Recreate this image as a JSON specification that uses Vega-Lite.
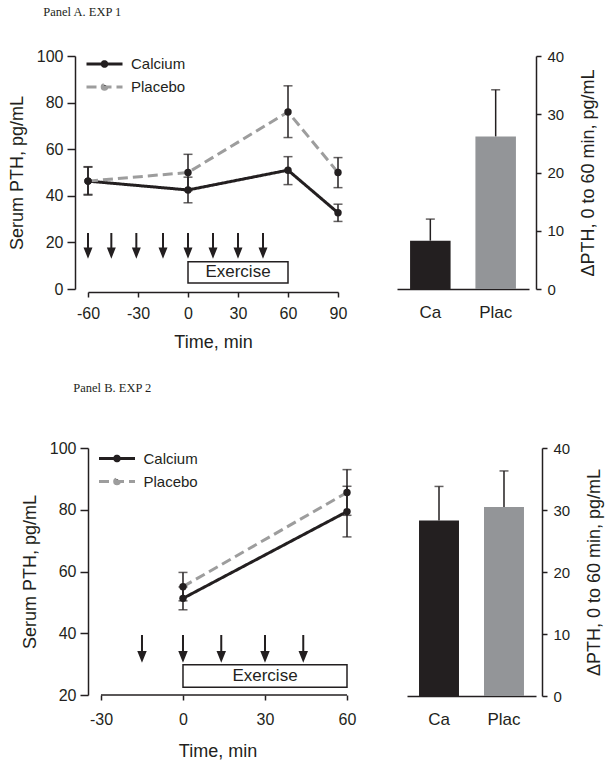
{
  "$schema": "https://vega.github.io/schema/vega-lite/v6.json",
  "padding": {"left": 8, "top": 5, "right": 5, "bottom": 5},
  "background": "white",
  "config": {
    "font": "Liberation Sans",
    "view": {"stroke": null},
    "axis": {"grid": false, "domainColor": "#231f20", "domainWidth": 1.5, "tickColor": "#231f20", "tickWidth": 1.5, "tickSize": 6, "labelColor": "#231f20", "titleColor": "#231f20", "labelFont": "Liberation Sans", "titleFont": "Liberation Sans", "labelFontSize": 16, "titleFontSize": 18, "titleFontWeight": "normal", "labelFlush": false, "labelOverlap": false, "labelBound": false},
    "title": {"font": "Liberation Serif", "fontSize": 12.5, "fontWeight": "normal", "color": "#231f20", "anchor": "start"}
  },
  "datasets": {
    "lineA": [
      {"t": -60, "group": "Calcium", "v": 46.3, "lo": 40.3, "hi": 52.3},
      {"t": 0, "group": "Calcium", "v": 42.5, "lo": 37, "hi": 48},
      {"t": 60, "group": "Calcium", "v": 51, "lo": 44.8, "hi": 56.8},
      {"t": 90, "group": "Calcium", "v": 32.7, "lo": 29, "hi": 36.4},
      {"t": -60, "group": "Placebo", "v": 46.3, "lo": 40.6, "hi": 52.5},
      {"t": 0, "group": "Placebo", "v": 50, "lo": 42.2, "hi": 57.8},
      {"t": 60, "group": "Placebo", "v": 76, "lo": 65, "hi": 87.2},
      {"t": 90, "group": "Placebo", "v": 50, "lo": 43.5, "hi": 56.4}
    ],
    "arrowsA": [{"t": -60}, {"t": -46}, {"t": -31}, {"t": -15}, {"t": 0}, {"t": 15}, {"t": 30}, {"t": 45}],
    "barA": [{"g": "Ca", "v": 8.3, "hi": 12}, {"g": "Plac", "v": 26.2, "hi": 34.2}],
    "lineB": [
      {"t": 0, "group": "Calcium", "v": 51.3, "lo": 47.6, "hi": 55},
      {"t": 60, "group": "Calcium", "v": 79.4, "lo": 71.2, "hi": 87.6},
      {"t": 0, "group": "Placebo", "v": 55.1, "lo": 50.5, "hi": 59.7},
      {"t": 60, "group": "Placebo", "v": 85.6, "lo": 78.2, "hi": 93}
    ],
    "arrowsB": [{"t": -15}, {"t": 0}, {"t": 14}, {"t": 30}, {"t": 44}],
    "barB": [{"g": "Ca", "v": 28.3, "hi": 33.8}, {"g": "Plac", "v": 30.5, "hi": 36.3}],
    "box": [{"label": "Exercise"}]
  },
  "spacing": 30,
  "resolve": {"scale": {"color": "independent", "strokeDash": "independent"}, "legend": {"color": "independent", "strokeDash": "independent"}},
  "vconcat": [
    {
      "title": {"text": "Panel A. EXP 1", "anchor": "start", "dx": 35, "offset": 30},
      "spacing": 50,
      "resolve": {"scale": {"color": "independent", "strokeDash": "independent"}, "legend": {"color": "independent", "strokeDash": "independent"}},
      "hconcat": [
        {
          "width": 250, "height": 233,
          "layer": [
            {
              "data": {"name": "lineA"},
              "mark": {"type": "line", "strokeWidth": 3},
              "encoding": {
                "x": {"field": "t", "type": "quantitative", "title": "Time, min", "scale": {"domain": [-60, 90], "nice": false, "zero": false}, "axis": {"values": [-60, -30, 0, 30, 60, 90], "labelExpr": "'' + datum.value", "offset": 3, "tickSize": 5, "labelPadding": 8, "titlePadding": 12}},
                "y": {"field": "v", "type": "quantitative", "title": "Serum PTH, pg/mL", "scale": {"domain": [0, 100], "nice": false}, "axis": {"values": [0, 20, 40, 60, 80, 100], "offset": 13, "tickSize": 8, "labelPadding": 4, "titlePadding": 10}},
                "color": {"field": "group", "type": "nominal", "scale": {"domain": ["Calcium", "Placebo"], "range": ["#231f20", "#9d9d9d"]}, "legend": {"title": null, "orient": "none", "legendX": 9, "legendY": 0.5, "padding": 0, "symbolType": "M-4.5,0L4.5,0M0.575,0A0.575,0.575,0,1,1,-0.575,0A0.575,0.575,0,1,1,0.575,0Z", "symbolSize": 64, "symbolStrokeWidth": 3, "labelFontSize": 15, "labelOffset": 19, "rowPadding": 6, "labelColor": "#231f20", "encode": {"symbols": {"update": {"fill": {"value": "#231f20"}, "fillOpacity": {"value": 1}}}}}},
                "strokeDash": {"field": "group", "type": "nominal", "scale": {"domain": ["Calcium", "Placebo"], "range": [[1, 0], [10, 5]]}, "legend": {"title": null, "orient": "none", "legendX": 9, "legendY": 0.5, "padding": 0, "symbolType": "M-4.5,0L4.5,0M0.575,0A0.575,0.575,0,1,1,-0.575,0A0.575,0.575,0,1,1,0.575,0Z", "symbolSize": 64, "symbolStrokeWidth": 3, "labelFontSize": 15, "labelOffset": 19, "rowPadding": 6, "labelColor": "#231f20", "encode": {"symbols": {"update": {"fill": {"value": "#231f20"}, "fillOpacity": {"value": 1}}}}}}
              }
            },
            {
              "data": {"name": "lineA"},
              "mark": {"type": "errorbar", "ticks": {"size": 9}, "thickness": 1.5, "color": "#231f20"},
              "encoding": {
                "x": {"field": "t", "type": "quantitative", "title": "Time, min"},
                "y": {"field": "lo", "type": "quantitative", "title": "Serum PTH, pg/mL"},
                "y2": {"field": "hi"}
              }
            },
            {
              "data": {"name": "lineA"},
              "mark": {"type": "point", "filled": true, "size": 55, "opacity": 1, "color": "#231f20"},
              "encoding": {
                "x": {"field": "t", "type": "quantitative", "title": "Time, min"},
                "y": {"field": "v", "type": "quantitative", "title": "Serum PTH, pg/mL"}
              }
            },
            {
              "data": {"name": "arrowsA"},
              "mark": {"type": "point", "shape": "M0,-1L0,0.35M-0.25,0.3L0.25,0.3L0,0.92Z", "size": 576, "filled": true, "fill": "#231f20", "stroke": "#231f20", "strokeWidth": 2, "opacity": 1},
              "encoding": {
                "x": {"field": "t", "type": "quantitative", "title": "Time, min"},
                "y": {"datum": 18.9, "type": "quantitative"}
              }
            },
            {
              "data": {"name": "box"},
              "mark": {"type": "rect", "fill": "white", "stroke": "#231f20", "strokeWidth": 1.5},
              "encoding": {"x": {"datum": 0, "type": "quantitative"}, "x2": {"datum": 60}, "y": {"datum": 2.6, "type": "quantitative"}, "y2": {"datum": 11.7}}
            },
            {
              "data": {"name": "box"},
              "mark": {"type": "text", "fontSize": 17, "color": "#231f20"},
              "encoding": {"x": {"datum": 30, "type": "quantitative"}, "y": {"datum": 7.1, "type": "quantitative"}, "text": {"field": "label"}}
            }
          ]
        },
        {
          "width": 132, "height": 233,
          "data": {"name": "barA"},
          "encoding": {
            "x": {"field": "g", "type": "nominal", "sort": null, "scale": {"paddingInner": 0.38, "paddingOuter": 0.2}, "axis": {"title": null, "labelAngle": 0, "ticks": false, "tickSize": 0, "labelPadding": 15, "labelFontSize": 17}}
          },
          "layer": [
            {
              "mark": {"type": "bar"},
              "encoding": {
                "y": {"field": "v", "type": "quantitative", "scale": {"domain": [0, 40], "nice": false}, "axis": {"orient": "right", "offset": 7, "values": [0, 10, 20, 30, 40], "title": "ΔPTH, 0 to 60 min, pg/mL", "titleAngle": 270, "titleBaseline": "top", "tickSize": 5, "labelPadding": 6, "titlePadding": 16, "labelFontSize": 15}},
                "color": {"field": "g", "type": "nominal", "sort": null, "scale": {"domain": ["Ca", "Plac"], "range": ["#231f20", "#939598"]}, "legend": null}
              }
            },
            {
              "mark": {"type": "rule", "color": "#231f20", "strokeWidth": 1.5},
              "encoding": {"y": {"field": "v", "type": "quantitative"}, "y2": {"field": "hi"}}
            },
            {
              "mark": {"type": "tick", "color": "#231f20", "thickness": 1.5, "size": 9},
              "encoding": {"y": {"field": "hi", "type": "quantitative"}}
            }
          ]
        }
      ]
    },
    {
      "title": {"text": "Panel B. EXP 2", "anchor": "start", "dx": 52, "offset": 46},
      "spacing": 51,
      "resolve": {"scale": {"color": "independent", "strokeDash": "independent"}, "legend": {"color": "independent", "strokeDash": "independent"}},
      "hconcat": [
        {
          "width": 259, "height": 247,
          "layer": [
            {
              "data": {"name": "lineB"},
              "mark": {"type": "line", "strokeWidth": 3},
              "encoding": {
                "x": {"field": "t", "type": "quantitative", "title": "Time, min", "scale": {"domain": [-34.75, 60], "nice": false, "zero": false}, "axis": {"values": [-30, 0, 30, 60], "labelExpr": "'' + datum.value", "domain": false, "offset": 0, "tickSize": 5, "labelPadding": 11, "titlePadding": 15}},
                "y": {"field": "v", "type": "quantitative", "title": "Serum PTH, pg/mL", "scale": {"domain": [20, 100], "nice": false, "zero": false}, "axis": {"values": [20, 40, 60, 80, 100], "offset": 0, "tickSize": 8, "labelPadding": 4, "titlePadding": 10}},
                "color": {"field": "group", "type": "nominal", "scale": {"domain": ["Calcium", "Placebo"], "range": ["#231f20", "#9d9d9d"]}, "legend": {"title": null, "orient": "none", "legendX": 21.5, "legendY": 3, "padding": 0, "symbolType": "M-4.5,0L4.5,0M0.575,0A0.575,0.575,0,1,1,-0.575,0A0.575,0.575,0,1,1,0.575,0Z", "symbolSize": 64, "symbolStrokeWidth": 3, "labelFontSize": 15, "labelOffset": 19, "rowPadding": 6, "labelColor": "#231f20", "encode": {"symbols": {"update": {"fill": {"value": "#231f20"}, "fillOpacity": {"value": 1}}}}}},
                "strokeDash": {"field": "group", "type": "nominal", "scale": {"domain": ["Calcium", "Placebo"], "range": [[1, 0], [10, 5]]}, "legend": {"title": null, "orient": "none", "legendX": 21.5, "legendY": 3, "padding": 0, "symbolType": "M-4.5,0L4.5,0M0.575,0A0.575,0.575,0,1,1,-0.575,0A0.575,0.575,0,1,1,0.575,0Z", "symbolSize": 64, "symbolStrokeWidth": 3, "labelFontSize": 15, "labelOffset": 19, "rowPadding": 6, "labelColor": "#231f20", "encode": {"symbols": {"update": {"fill": {"value": "#231f20"}, "fillOpacity": {"value": 1}}}}}}
              }
            },
            {
              "data": {"name": "lineB"},
              "mark": {"type": "errorbar", "ticks": {"size": 9}, "thickness": 1.5, "color": "#231f20"},
              "encoding": {
                "x": {"field": "t", "type": "quantitative", "title": "Time, min"},
                "y": {"field": "lo", "type": "quantitative", "title": "Serum PTH, pg/mL"},
                "y2": {"field": "hi"}
              }
            },
            {
              "data": {"name": "lineB"},
              "mark": {"type": "point", "filled": true, "size": 55, "opacity": 1, "color": "#231f20"},
              "encoding": {
                "x": {"field": "t", "type": "quantitative", "title": "Time, min"},
                "y": {"field": "v", "type": "quantitative", "title": "Serum PTH, pg/mL"}
              }
            },
            {
              "data": {"name": "arrowsB"},
              "mark": {"type": "point", "shape": "M0,-1L0,0.35M-0.25,0.3L0.25,0.3L0,0.92Z", "size": 676, "filled": true, "fill": "#231f20", "stroke": "#231f20", "strokeWidth": 2, "opacity": 1},
              "encoding": {
                "x": {"field": "t", "type": "quantitative", "title": "Time, min"},
                "y": {"datum": 35.2, "type": "quantitative"}
              }
            },
            {
              "data": {"name": "box"},
              "mark": {"type": "rect", "fill": "white", "stroke": "#231f20", "strokeWidth": 1.5},
              "encoding": {"x": {"datum": 0, "type": "quantitative"}, "x2": {"datum": 60}, "y": {"datum": 22.5, "type": "quantitative"}, "y2": {"datum": 29.8}}
            },
            {
              "data": {"name": "box"},
              "mark": {"type": "text", "fontSize": 17, "color": "#231f20"},
              "encoding": {"x": {"datum": 30, "type": "quantitative"}, "y": {"datum": 26.2, "type": "quantitative"}, "text": {"field": "label"}}
            },
            {
              "data": {"name": "box"},
              "mark": {"type": "rule", "color": "#231f20", "strokeWidth": 1.5},
              "encoding": {"x": {"datum": -30, "type": "quantitative"}, "x2": {"datum": 60}, "y": {"datum": 20, "type": "quantitative"}}
            }
          ]
        },
        {
          "width": 129, "height": 248,
          "data": {"name": "barB"},
          "encoding": {
            "x": {"field": "g", "type": "nominal", "sort": null, "scale": {"paddingInner": 0.385, "paddingOuter": 0.185}, "axis": {"title": null, "labelAngle": 0, "ticks": false, "tickSize": 0, "labelPadding": 15, "labelFontSize": 17}}
          },
          "layer": [
            {
              "mark": {"type": "bar"},
              "encoding": {
                "y": {"field": "v", "type": "quantitative", "scale": {"domain": [0, 40], "nice": false}, "axis": {"orient": "right", "offset": 6, "values": [0, 10, 20, 30, 40], "title": "ΔPTH, 0 to 60 min, pg/mL", "titleAngle": 270, "titleBaseline": "top", "tickSize": 5, "labelPadding": 6, "titlePadding": 16, "labelFontSize": 15}},
                "color": {"field": "g", "type": "nominal", "sort": null, "scale": {"domain": ["Ca", "Plac"], "range": ["#231f20", "#939598"]}, "legend": null}
              }
            },
            {
              "mark": {"type": "rule", "color": "#231f20", "strokeWidth": 1.5},
              "encoding": {"y": {"field": "v", "type": "quantitative"}, "y2": {"field": "hi"}}
            },
            {
              "mark": {"type": "tick", "color": "#231f20", "thickness": 1.5, "size": 9},
              "encoding": {"y": {"field": "hi", "type": "quantitative"}}
            }
          ]
        }
      ]
    }
  ]
}
